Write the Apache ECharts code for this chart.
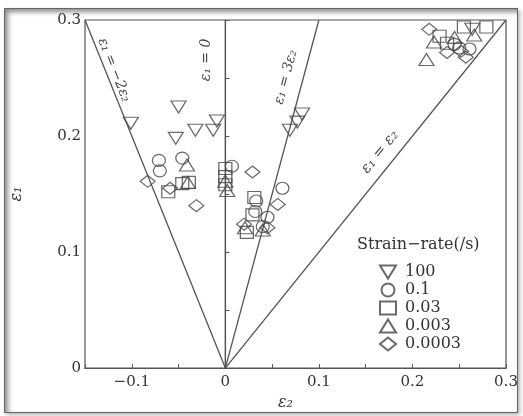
<!DOCTYPE html>
<html>
<head>
<meta charset="utf-8">
<script src="https://cdn.jsdelivr.net/npm/echarts@6/dist/echarts.min.js"></script>
<style>
  html, body { margin: 0; padding: 0; background: #fff; }
  #frame {
    position: absolute; left: 4px; top: 8px; width: 512px; height: 403px;
    border: 1px solid #666;
    box-shadow: inset 3px 3px 5px rgba(0,0,0,0.45), 2px 2px 4px rgba(0,0,0,0.3);
  }
  #main { position: absolute; left: 0; top: 0; width: 523px; height: 416px; }
</style>
</head>
<body>
<div id="frame"></div>
<div id="main"></div>
<script>
// strain-rate groups (legend order)
var rateNames = ['100', '0.1', '0.03', '0.003', '0.0003'];

// [eps2, eps1]
var rate100 = [[-0.050, 0.225], [-0.101, 0.211], [-0.009, 0.213], [-0.032, 0.205], [-0.013, 0.205],
  [-0.053, 0.198], [0.082, 0.219], [0.077, 0.212], [0.069, 0.205], [0.264, 0.292]];
var rate01 = [[-0.071, 0.179], [-0.070, 0.170], [-0.046, 0.181], [0.007, 0.174], [0.061, 0.155],
  [0.033, 0.144], [0.032, 0.135], [0.045, 0.130], [0.040, 0.122], [0.245, 0.279], [0.250, 0.276], [0.261, 0.275]];
var rate003 = [[-0.061, 0.152], [-0.046, 0.159], [-0.039, 0.160], [0, 0.172], [0, 0.165], [0, 0.158],
  [0.031, 0.147], [0.029, 0.132], [0.023, 0.117], [0.229, 0.286], [0.237, 0.280], [0.255, 0.294], [0.279, 0.294]];
var rate0003 = [[-0.041, 0.175], [-0.040, 0.160], [0, 0.161], [0.002, 0.153], [0.021, 0.121],
  [0.040, 0.119], [0.215, 0.266], [0.223, 0.281], [0.245, 0.285], [0.266, 0.287]];
var rate00003 = [[-0.083, 0.161], [-0.059, 0.155], [-0.031, 0.140], [0.029, 0.169], [0.056, 0.141],
  [0.045, 0.121], [0.020, 0.124], [0.218, 0.292], [0.237, 0.272], [0.252, 0.273], [0.257, 0.268]];

// guide lines from the origin to the frame edge
var guideNames = ['e1=-2e2', 'e1=0', 'e1=3e2', 'e1=e2'];
var guideEnds = [[-0.15, 0.3], [0, 0.3], [0.1, 0.3], [0.3, 0.3]];

var xTicks = [-0.1, 0, 0.1, 0.2, 0.3];
var yTicks = [0, 0.1, 0.2, 0.3];

var serif = '"DejaVu Serif", "Liberation Serif", serif';
var ink = '#444';

var chart = echarts.init(document.getElementById('main'), null, { renderer: 'canvas' });

function tickLabel(list) {
  return function (v) {
    for (var i = 0; i < list.length; i++) {
      if (Math.abs(v - list[i]) < 1e-6) return list[i] < 0 ? '\u2212' + (-list[i]) : '' + list[i];
    }
    return '';
  };
}

var markerStyle = { color: 'rgba(255,255,255,0)', borderColor: ink, borderWidth: 1.2 };
var symbols = ['triangle', 'circle', 'rect', 'triangle', 'diamond'];
var rotates = [180, 0, 0, 0, 0];
var sizes = [[15, 12], [13, 12], [13, 12], [15, 12], [15, 12]];
var groups = [rate100, rate01, rate003, rate0003, rate00003];

var series = [];
guideEnds.forEach(function (end, i) {
  series.push({
    name: guideNames[i],
    type: 'line',
    data: [[0, 0], end],
    symbol: 'none',
    silent: true,
    lineStyle: { color: '#555', width: 1.3 },
    z: 1
  });
});
groups.forEach(function (g, i) {
  series.push({
    name: rateNames[i],
    type: 'scatter',
    data: g,
    symbol: symbols[i],
    symbolRotate: rotates[i],
    symbolSize: sizes[i],
    itemStyle: markerStyle,
    z: 3
  });
});

// legend icons (the down triangle needs its own path)
var legendData = rateNames.map(function (n, i) {
  return i === 0 ? { name: n, icon: 'path://M0,0L16,0L8,13Z' } : { name: n };
});

var option = {
  animation: false,
  grid: { left: 85, right: 17, top: 20, bottom: 44, show: true, borderColor: '#555', borderWidth: 1.2 },
  xAxis: {
    type: 'value', min: -0.15, max: 0.3, interval: 0.05,
    name: '\u03b5\u2082', nameLocation: 'middle', nameGap: 26,
    nameTextStyle: { fontFamily: serif, fontStyle: 'italic', fontSize: 16, color: '#333', padding: [0, 20, 0, 0] },
    axisLine: { lineStyle: { color: '#555', width: 1.2 } },
    axisTick: { inside: true, length: 4, lineStyle: { color: '#555' } },
    axisLabel: { formatter: tickLabel(xTicks), fontFamily: serif, fontSize: 15, color: '#333', margin: 7 },
    splitLine: { show: false }
  },
  yAxis: {
    type: 'value', min: 0, max: 0.3, interval: 0.05,
    name: '\u03b5\u2081', nameLocation: 'middle', nameGap: 60,
    nameTextStyle: { fontFamily: serif, fontStyle: 'italic', fontSize: 16, color: '#333' },
    axisLine: { lineStyle: { color: '#555', width: 1.2 } },
    axisTick: { inside: true, length: 4, lineStyle: { color: '#555' } },
    axisLabel: { formatter: tickLabel(yTicks), fontFamily: serif, fontSize: 15, color: '#333', margin: 4 },
    splitLine: { show: false }
  },
  legend: {
    data: legendData,
    orient: 'vertical', left: 374, top: 259,
    itemWidth: 16, itemHeight: 13, itemGap: 2,
    textStyle: { fontFamily: serif, fontSize: 16, color: '#333', padding: [0, 0, 0, 4] },
    selectedMode: false
  },
  graphic: [
    { type: 'text', left: 357, top: 237,
      style: { text: 'Strain\u2212rate(/s)', font: '16px ' + serif, fill: '#333' } },
    { type: 'text', x: 114, y: 70, rotation: -68.3 * Math.PI / 180,
      style: { text: '\u03b5\u2081 = \u22122\u03b5\u2082', font: 'italic 14px ' + serif, fill: ink, align: 'center', verticalAlign: 'middle' } },
    { type: 'text', x: 206, y: 60, rotation: Math.PI / 2,
      style: { text: '\u03b5\u2081 = 0', font: 'italic 14px ' + serif, fill: ink, align: 'center', verticalAlign: 'middle' } },
    { type: 'text', x: 286, y: 77, rotation: 75 * Math.PI / 180,
      style: { text: '\u03b5\u2081 = 3\u03b5\u2082', font: 'italic 14px ' + serif, fill: ink, align: 'center', verticalAlign: 'middle' } },
    { type: 'text', x: 380, y: 152, rotation: 51.4 * Math.PI / 180,
      style: { text: '\u03b5\u2081 = \u03b5\u2082', font: 'italic 15px ' + serif, fill: ink, align: 'center', verticalAlign: 'middle' } }
  ],
  series: series
};

chart.setOption(option);
</script>
</body>
</html>
